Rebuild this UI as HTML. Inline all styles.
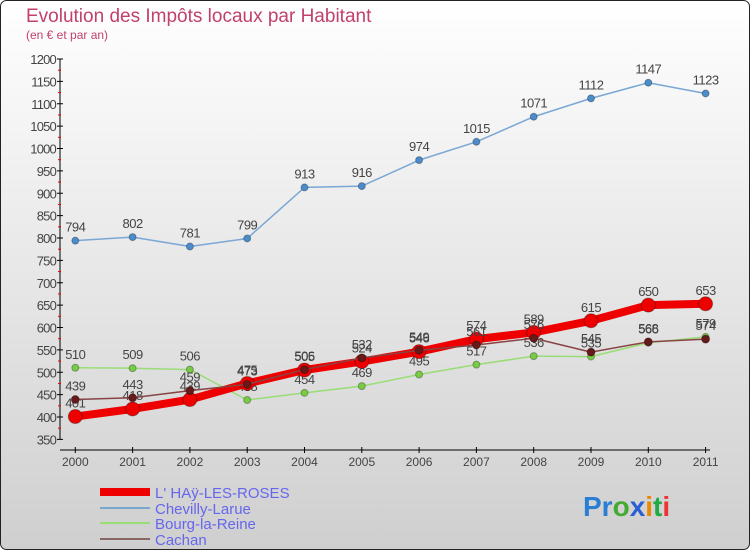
<!DOCTYPE html>
<html><head><meta charset="utf-8"><style>
body{margin:0;width:750px;height:550px;overflow:hidden;font-family:"Liberation Sans",sans-serif}
svg text{font-family:"Liberation Sans",sans-serif}
</style></head><body>
<svg id="c" width="750" height="550" xmlns="http://www.w3.org/2000/svg">
<defs><linearGradient id="bg" x1="0" y1="0" x2="0" y2="1"><stop offset="0" stop-color="#ffffff"/><stop offset="1" stop-color="#cfcfcf"/></linearGradient></defs>
<rect x="0.5" y="0.5" width="749" height="549" rx="6" fill="url(#bg)" stroke="#222"/>
<text x="26" y="22" font-size="19" fill="#c2406c">Evolution des Impôts locaux par Habitant</text>
<text x="26" y="39" font-size="12" fill="#c2406c">(en € et par an)</text>
<g id="axes"></g><g id="series"></g>
<g>
<rect x="100" y="488" width="50" height="8" fill="#ee0000"/>
<line x1="100" y1="508" x2="150" y2="508" stroke="#7aa7cc" stroke-width="2"/>
<line x1="100" y1="523" x2="150" y2="523" stroke="#99dd77" stroke-width="2"/>
<line x1="100" y1="539" x2="150" y2="539" stroke="#886666" stroke-width="2"/>
<text x="155" y="498" font-size="15" fill="#6666ee">L' HAÿ-LES-ROSES</text>
<text x="155" y="514" font-size="15" fill="#6666ee">Chevilly-Larue</text>
<text x="155" y="529" font-size="15" fill="#6666ee">Bourg-la-Reine</text>
<text x="155" y="545" font-size="15" fill="#6666ee">Cachan</text>
</g>
<text x="583" y="516" font-size="28" font-weight="bold"><tspan fill="#2a7fd4">Pr</tspan><tspan fill="#44aa33">o</tspan><tspan fill="#2a5fd4">x</tspan><tspan fill="#ee8800">i</tspan><tspan fill="#22aa44">t</tspan><tspan fill="#ee3333">i</tspan></text>
</svg>
<script>
const years=["2000","2001","2002","2003","2004","2005","2006","2007","2008","2009","2010","2011"];
const yTicks=[350,400,450,500,550,600,650,700,750,800,850,900,950,1000,1050,1100,1150,1200];
const lhay=[401,418,439,475,505,524,546,574,589,615,650,653];
const chevilly=[794,802,781,799,913,916,974,1015,1071,1112,1147,1123];
const bourg=[510,509,506,438,454,469,495,517,536,535,566,579];
const cachan=[439,443,459,473,506,532,549,561,576,545,568,574];
const NS="http://www.w3.org/2000/svg";
const X=i=>75.3+i*57.3;
const Y=v=>417-(v-400)*0.4475;
function mk(p,t,a){const e=document.createElementNS(NS,t);for(const k in a)e.setAttribute(k,a[k]);p.appendChild(e);return e;}
const ax=document.getElementById('axes'),sr=document.getElementById('series');
let l=mk(ax,'line',{x1:60,y1:Y(1200),x2:60,y2:Y(350),stroke:'#000'});


l=mk(ax,'line',{x1:60,y1:450,x2:710,y2:450,stroke:'#000'});


yTicks.forEach(v=>{
 const t=mk(ax,'line',{x1:57,y1:Y(v),x2:63,y2:Y(v),stroke:'#000'});
 
 
 if(v<1200){const m=mk(ax,'line',{x1:58,y1:Y(v+25),x2:61,y2:Y(v+25),stroke:'#e00'});
 
 }
 const tx=mk(ax,'text',{x:56,y:Y(v)+5,'font-size':13,fill:'#444','text-anchor':'end','letter-spacing':'-0.8'});
 tx.textContent=v;
 
 
});
years.forEach((y,i)=>{
 const t=mk(ax,'line',{x1:X(i),y1:447,x2:X(i),y2:453,stroke:'#000'});
 
 
 const tx=mk(ax,'text',{x:X(i),y:466,'font-size':12,fill:'#444','text-anchor':'middle'});
 tx.textContent=y;
 
 
});
function series(d,name,col,w,r,dot){
 const g=mk(sr,'g',{});
 
 
 const p=mk(g,'polyline',{points:d.map((v,i)=>X(i)+','+Y(v)).join(' '),fill:'none',stroke:col,'stroke-width':w,'stroke-linejoin':'round'});
 
 
 d.forEach((v,i)=>{
  const c=mk(g,'circle',{cx:X(i),cy:Y(v),r:r,fill:dot,stroke:'rgba(0,0,0,0.3)','stroke-width':1});
  
  
  const t=mk(g,'text',{x:X(i),y:Y(v)-9,'font-size':13,fill:'#444','text-anchor':'middle','letter-spacing':'-0.5'});
  t.textContent=v;
  
  
 });
}
series(chevilly,'chevilly','#7aa7d4',1.5,3.5,'#4a8ccc');
series(bourg,'bourg','#99dd77',1.5,3.5,'#77cc44');
series(lhay,'lhay','#ee0000',8,7,'#ee0000');
series(cachan,'cachan','#884444',1.5,4,'#661a1a');
</script>
</body></html>
